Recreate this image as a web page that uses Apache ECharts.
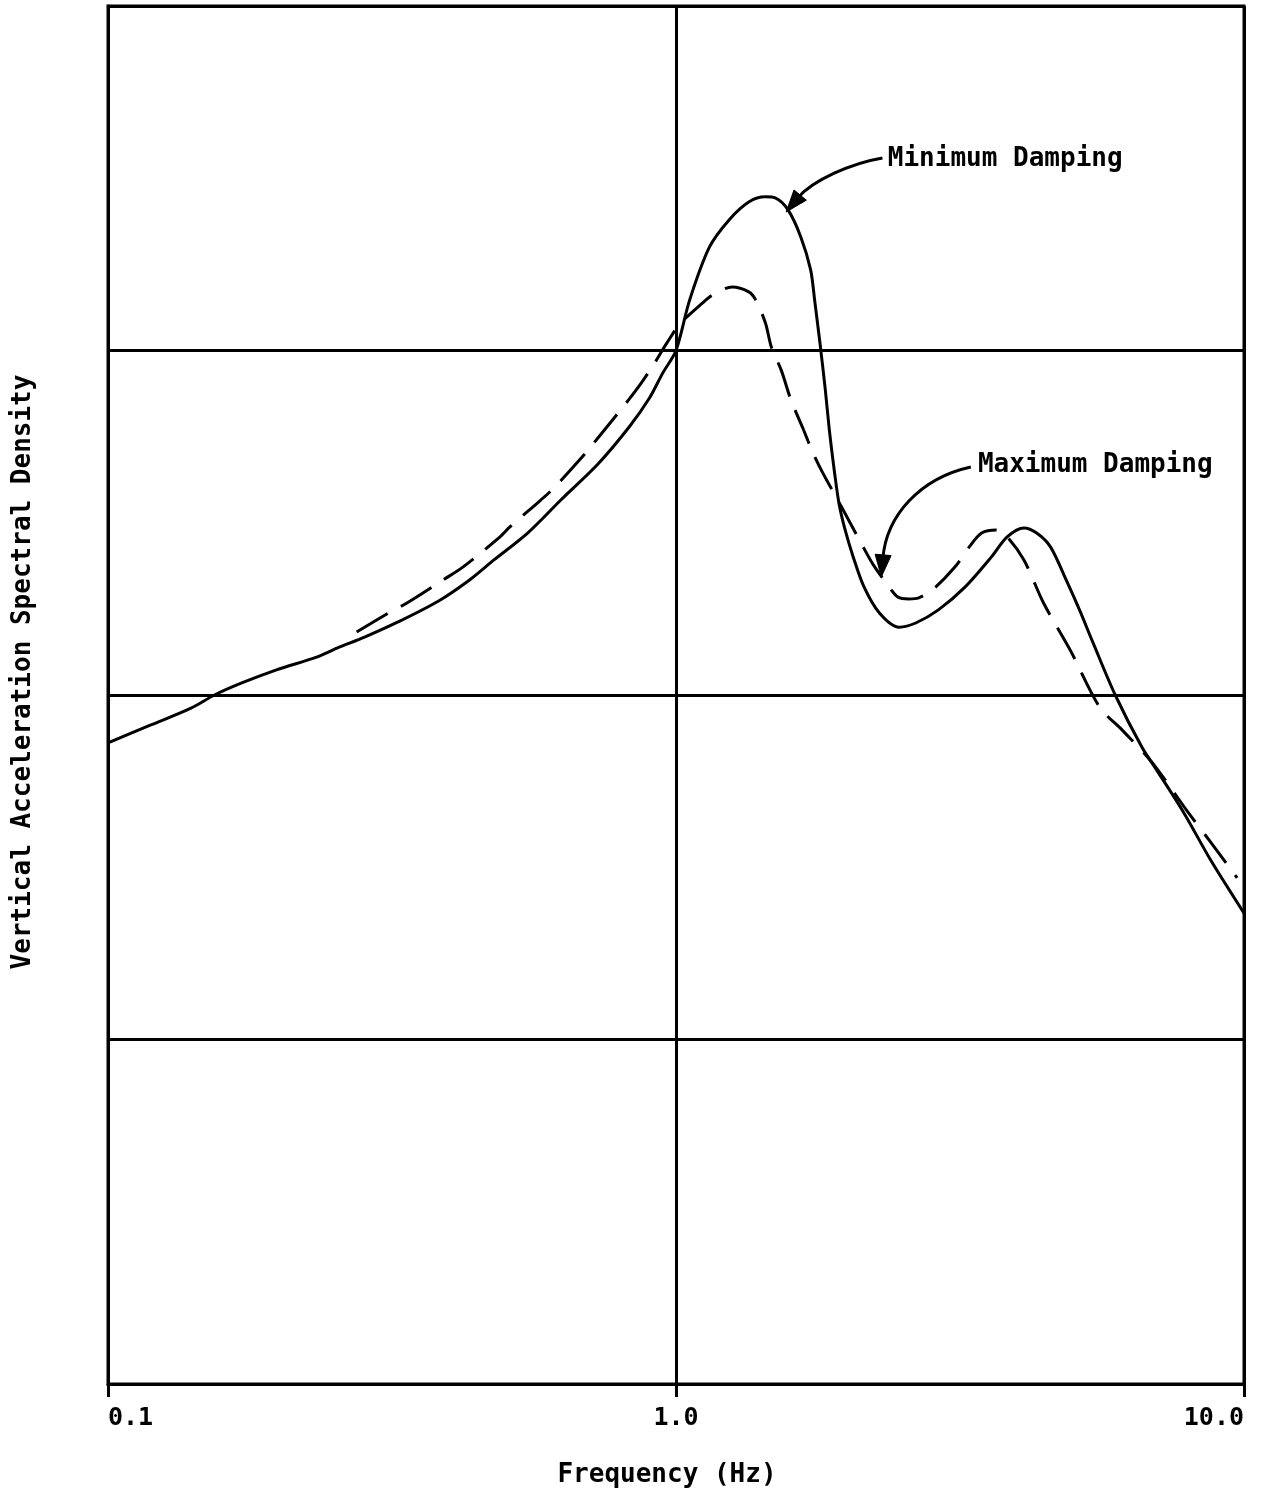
<!DOCTYPE html>
<html>
<head>
<meta charset="utf-8">
<title>Vertical Acceleration Spectral Density</title>
<script src="https://cdn.jsdelivr.net/npm/echarts@6/dist/echarts.min.js"></script>
<style>
  html, body { margin: 0; padding: 0; background: #fff; }
  #chart { width: 1263px; height: 1496px; }
</style>
</head>
<body>
<div id="chart"></div>
<script>
// Frequency axis (Hz) tick values, log scale
const xTicks = [0.1, 1.0, 10.0];

// Minimum damping response: frequency (Hz) and level (decades, unlabelled axis)
const minDampFreq = [0.100, 0.119, 0.140, 0.154, 0.172, 0.198, 0.233, 0.253, 0.283, 0.324,
  0.382, 0.433, 0.478, 0.548, 0.627, 0.731, 0.827, 0.898, 0.948, 1.000,
  1.057, 1.145, 1.240, 1.343, 1.437, 1.495, 1.575, 1.659, 1.726, 1.754,
  1.796, 1.832, 1.862, 1.899, 1.938, 1.985, 2.049, 2.140, 2.281, 2.470,
  2.643, 2.897, 3.226, 3.593, 3.828, 4.098, 4.315, 4.563, 4.863, 5.142,
  5.415, 5.933, 6.609, 7.071, 7.843, 8.735, 10.00];
const minDampLevel = [1.861, 1.913, 1.962, 2.000, 2.035, 2.073, 2.110, 2.136, 2.168, 2.212,
  2.273, 2.334, 2.392, 2.470, 2.566, 2.673, 2.778, 2.862, 2.935, 3.000,
  3.147, 3.300, 3.379, 3.431, 3.446, 3.443, 3.408, 3.329, 3.234, 3.147,
  3.010, 2.885, 2.769, 2.653, 2.552, 2.479, 2.403, 2.316, 2.238, 2.197,
  2.209, 2.247, 2.313, 2.401, 2.459, 2.485, 2.470, 2.430, 2.334, 2.244,
  2.154, 2.000, 1.849, 1.774, 1.657, 1.521, 1.367];

// Maximum damping response
const maxDampFreq = [0.274, 0.314, 0.336, 0.389, 0.422, 0.490, 0.510, 0.578, 0.612, 0.693,
  0.731, 0.820, 0.869, 0.917, 0.964, 1.016, 1.114, 1.159, 1.255, 1.343,
  1.381, 1.437, 1.472, 1.532, 1.594, 1.672, 1.740, 1.810, 1.961, 2.140,
  2.227, 2.374, 2.460, 2.570, 2.675, 2.829, 3.100, 3.291, 3.452, 3.664,
  3.828, 4.098, 4.437, 4.941, 5.568, 6.104, 6.877, 7.968, 8.735, 9.725];
const maxDampLevel = [2.183, 2.241, 2.267, 2.334, 2.372, 2.459, 2.488, 2.566, 2.604, 2.702,
  2.749, 2.851, 2.906, 2.964, 3.022, 3.077, 3.138, 3.161, 3.184, 3.170,
  3.147, 3.080, 3.010, 2.943, 2.856, 2.775, 2.705, 2.647, 2.543, 2.427,
  2.377, 2.313, 2.284, 2.279, 2.282, 2.305, 2.372, 2.432, 2.470, 2.479,
  2.459, 2.392, 2.267, 2.131, 1.965, 1.898, 1.806, 1.660, 1.573, 1.469];

// Callouts: label anchor, then a cubic arrow path tail -> c1 -> c2 -> head (data units)
const minCallout = {
  text: 'Minimum Damping', at: [2.36, 3.556],
  path: [[2.309, 3.559], [2.041, 3.544], [1.740, 3.495], [1.563, 3.402]]
};
const maxCallout = {
  text: 'Maximum Damping', at: [3.40, 2.668],
  path: [[3.304, 2.662], [2.697, 2.630], [2.346, 2.523], [2.299, 2.343]]
};

const FONT = '"DejaVu Sans Mono", "Liberation Mono", monospace';
const INK = '#000';

const zip = (xs, ys) => xs.map((x, i) => [x, ys[i]]);

function calloutText(c) {
  return {
    silent: true,
    symbol: 'circle',
    symbolSize: 0,
    label: {
      show: true, position: 'right', distance: 0,
      formatter: c.text, color: INK, fontFamily: FONT, fontSize: 26, fontWeight: 'bold'
    },
    data: [{ coord: c.at }]
  };
}

const chart = echarts.init(document.getElementById('chart'), null, { renderer: 'canvas' });

chart.setOption({
  backgroundColor: '#fff',
  animation: false,
  grid: {
    left: 108, right: 19, top: 6, bottom: 112,
    show: true, borderColor: INK, borderWidth: 3, backgroundColor: 'transparent'
  },
  xAxis: {
    type: 'log', logBase: 10, min: xTicks[0], max: xTicks[xTicks.length - 1],
    name: 'Frequency (Hz)', nameLocation: 'middle', nameGap: 78,
    nameTextStyle: { color: INK, fontFamily: FONT, fontSize: 26, fontWeight: 'bold', padding: [0, 18, 0, 0] },
    axisLine: { show: true, lineStyle: { color: INK, width: 3 } },
    axisTick: { show: true, inside: false, length: 13, lineStyle: { color: INK, width: 3 } },
    splitLine: { show: true, lineStyle: { color: INK, width: 3 } },
    minorTick: { show: false },
    axisLabel: {
      show: true, color: INK, fontFamily: FONT, fontSize: 25, fontWeight: 'bold', margin: 22,
      alignMinLabel: 'left', alignMaxLabel: 'right',
      formatter: v => {
        const t = xTicks.find(k => Math.abs(Math.log10(k) - Math.log10(v)) < 1e-6);
        return t === undefined ? '' : t.toFixed(1);
      }
    }
  },
  yAxis: {
    type: 'value', min: 0, max: 4, interval: 1,
    name: 'Vertical Acceleration Spectral Density', nameLocation: 'middle', nameGap: 72,
    nameTextStyle: { color: INK, fontFamily: FONT, fontSize: 26, fontWeight: 'bold', padding: [0, 0, 0, 46] },
    axisLine: { show: true, lineStyle: { color: INK, width: 3 } },
    axisTick: { show: false },
    axisLabel: { show: false },
    splitLine: { show: true, lineStyle: { color: INK, width: 3 } }
  },
  series: [
    {
      name: 'Minimum Damping', type: 'line', data: zip(minDampFreq, minDampLevel),
      smooth: 0.3, showSymbol: false, symbol: 'none',
      lineStyle: { color: INK, width: 3, type: 'solid' },
      markPoint: calloutText(minCallout)
    },
    {
      name: 'Maximum Damping', type: 'line', data: zip(maxDampFreq, maxDampLevel),
      smooth: 0.3, showSymbol: false, symbol: 'none',
      lineStyle: { color: INK, width: 3, type: [36, 15] },
      markPoint: calloutText(maxCallout)
    }
  ]
});

// Curved callout arrows, placed from data coordinates through the chart's scales
function arrowGraphics(c) {
  const p = c.path.map(d => chart.convertToPixel({ gridIndex: 0 }, d));
  const [p0, p1, p2, p3] = p;
  const dx = p3[0] - p2[0], dy = p3[1] - p2[1];
  const len = Math.hypot(dx, dy) || 1;
  const ux = dx / len, uy = dy / len;
  const headLen = 22, headHalf = 8;
  const base = [p3[0] - ux * headLen, p3[1] - uy * headLen];
  return [
    {
      type: 'bezierCurve', silent: true, z: 10,
      shape: {
        x1: p0[0], y1: p0[1], cpx1: p1[0], cpy1: p1[1],
        cpx2: p2[0], cpy2: p2[1], x2: base[0] + ux * 4, y2: base[1] + uy * 4
      },
      style: { stroke: INK, lineWidth: 3, fill: null }
    },
    {
      type: 'polygon', silent: true, z: 10,
      shape: {
        points: [
          p3,
          [base[0] - uy * headHalf, base[1] + ux * headHalf],
          [base[0] + uy * headHalf, base[1] - ux * headHalf]
        ]
      },
      style: { fill: INK, stroke: INK, lineWidth: 1 }
    }
  ];
}

chart.setOption({ graphic: [...arrowGraphics(minCallout), ...arrowGraphics(maxCallout)] });
</script>
</body>
</html>
